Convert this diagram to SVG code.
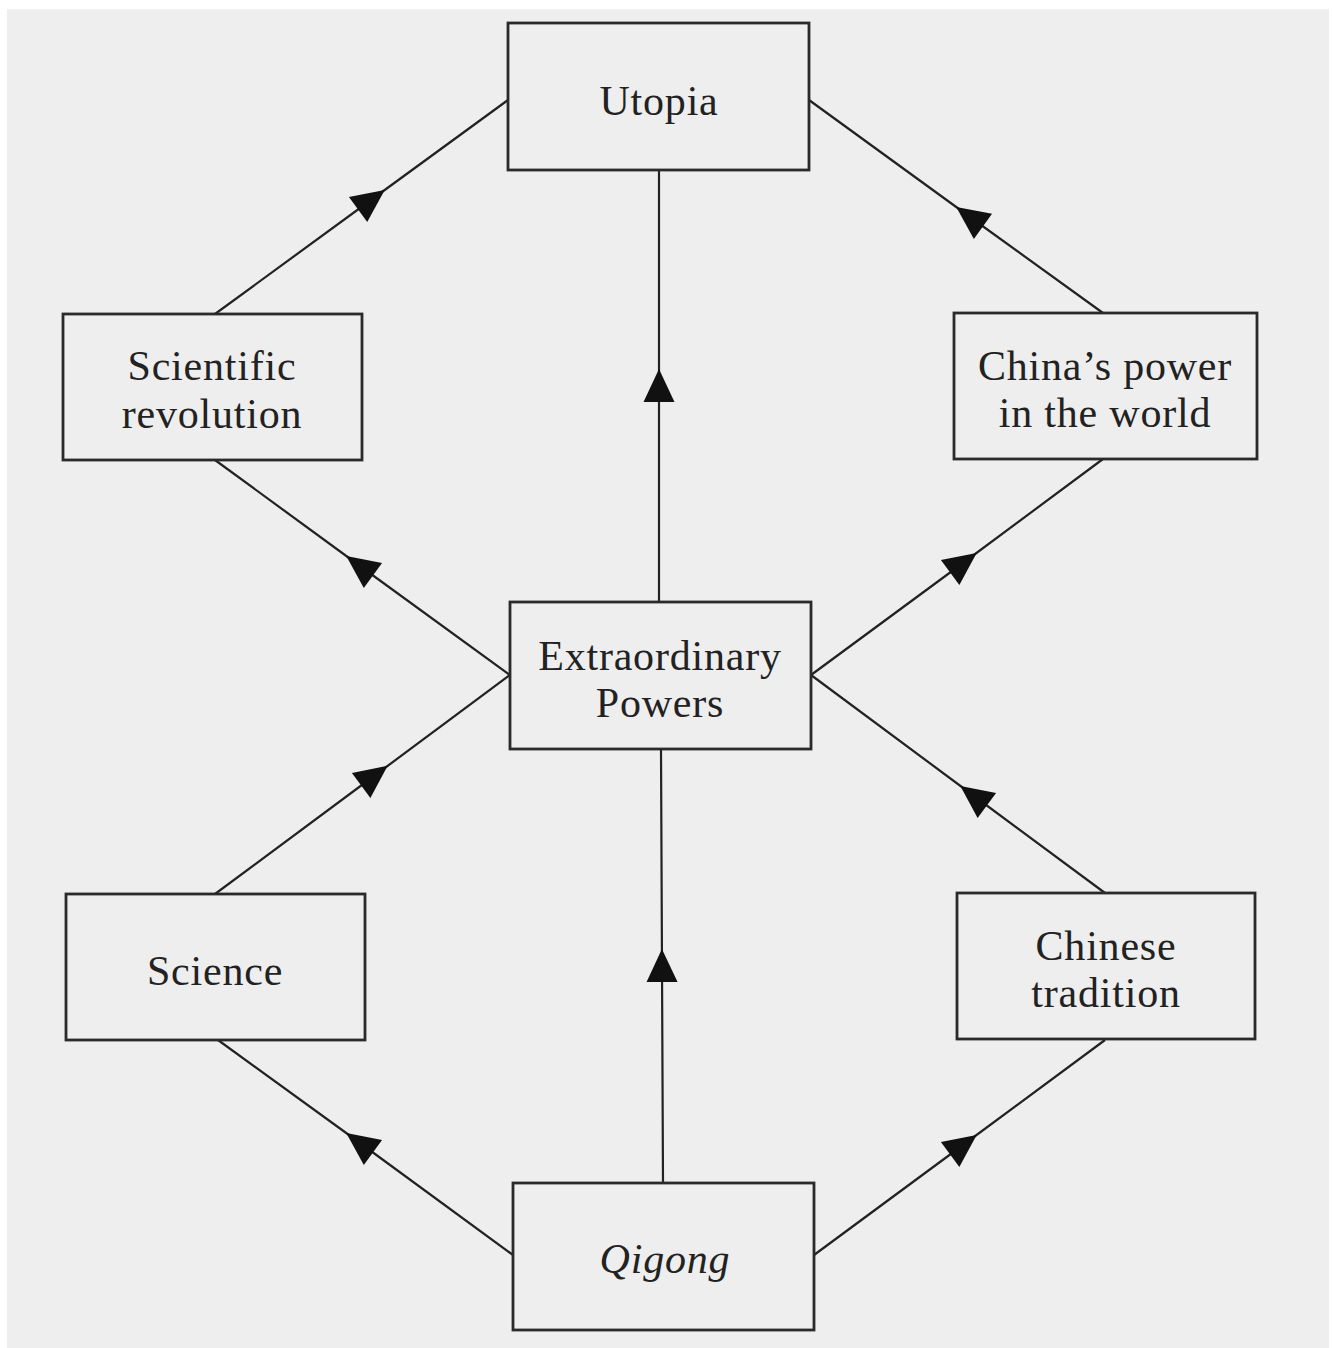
<svg xmlns="http://www.w3.org/2000/svg" width="1332" height="1348" viewBox="0 0 1332 1348">
<defs>
<marker id="arr" markerUnits="userSpaceOnUse" viewBox="-18 -18 36 36" markerWidth="36" markerHeight="36" refX="0" refY="0" orient="auto">
<path d="M17,0 L-16,-15.5 L-16,15.5 Z" fill="#111"/>
</marker>
</defs>
<style>
.box{fill:none;stroke:#2a2a2a;stroke-width:2.8}
.con{fill:none;stroke:#222;stroke-width:2.2;marker-mid:url(#arr)}
.t{font-family:"Liberation Serif",serif;font-size:42px;fill:#222;text-anchor:middle;letter-spacing:0.8px}
.it{font-style:italic}
</style>
<rect x="0" y="0" width="1332" height="1348" fill="#ffffff"/>
<rect x="7" y="9" width="1322" height="1339" fill="#eeeeee"/>
<g id="connectors">
<path class="con" d="M215,314 L371,200 L508,100"/>
<path class="con" d="M1103,313 L970,217 L809,100"/>
<path class="con" d="M659,602 L659,386 L659,170"/>
<path class="con" d="M510,675 L360,566 L215,460"/>
<path class="con" d="M811,675 L963,563 L1103,459"/>
<path class="con" d="M215,894 L374,776 L510,675"/>
<path class="con" d="M1105,893 L974,796 L811,675"/>
<path class="con" d="M663,1183 L662,966 L661,749"/>
<path class="con" d="M513,1255 L360,1143 L218,1040"/>
<path class="con" d="M814,1255 L963,1145 L1105,1040"/>
</g>
<g id="utopia">
<rect class="box" x="508" y="23" width="301" height="147"/>
<text class="t" x="659" y="115">Utopia</text>
</g>
<g id="scientific-revolution">
<rect class="box" x="63" y="314" width="299" height="146"/>
<text class="t" x="212" y="380">Scientific</text>
<text class="t" x="212" y="428">revolution</text>
</g>
<g id="chinas-power">
<rect class="box" x="954" y="313" width="303" height="146"/>
<text class="t" x="1105" y="380">China’s power</text>
<text class="t" x="1105" y="427">in the world</text>
</g>
<g id="extraordinary-powers">
<rect class="box" x="510" y="602" width="301" height="147"/>
<text class="t" x="660" y="670">Extraordinary</text>
<text class="t" x="660" y="717">Powers</text>
</g>
<g id="science">
<rect class="box" x="66" y="894" width="299" height="146"/>
<text class="t" x="215" y="985">Science</text>
</g>
<g id="chinese-tradition">
<rect class="box" x="957" y="893" width="298" height="146"/>
<text class="t" x="1106" y="960">Chinese</text>
<text class="t" x="1106" y="1007">tradition</text>
</g>
<g id="qigong">
<rect class="box" x="513" y="1183" width="301" height="147"/>
<text class="t it" x="665" y="1273">Qigong</text>
</g>
</svg>
